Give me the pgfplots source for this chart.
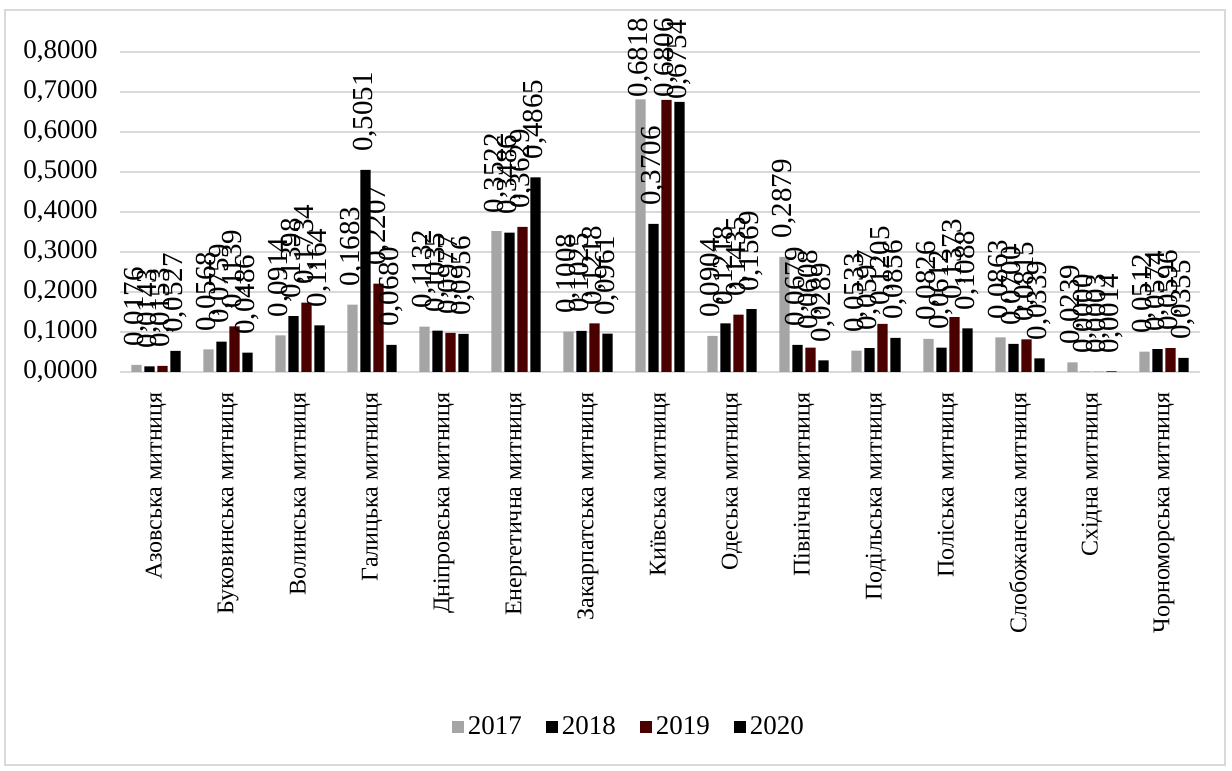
\documentclass[border=0pt]{standalone}
\usepackage{pgfplots}
\pgfplotsset{compat=1.18}
\usepackage{fontspec}
\setmainfont{Liberation Serif}
\definecolor{c17}{HTML}{A5A5A5}
\definecolor{c19}{HTML}{4B0000}
\definecolor{gridc}{HTML}{D9D9D9}
\newcommand{\fs}{\fontsize{13.5}{15}\selectfont}
\newcommand{\fn}{\fontsize{14.5}{16}\selectfont}
\newcommand{\fc}{\fontsize{12}{14}\selectfont}
\begin{document}
\begin{tikzpicture}
\begin{axis}[
  at={(60pt,199.5pt)}, anchor=south west,
  width=540pt, height=160pt, scale only axis,
  ybar, bar width=5.2pt, ybar=1.3pt,
  xmin=-0.5, xmax=14.5, ymin=0, ymax=0.8,
  xtick=data,
  xticklabels={Азовська митниця, Буковинська митниця, Волинська митниця,
    Галицька митниця, Дніпровська митниця, Енергетична митниця,
    Закарпатська митниця, Київська митниця, Одеська митниця,
    Північна митниця, Подільська митниця, Поліська митниця,
    Слобожанська митниця, Східна митниця, Чорноморська митниця},
  ytick={0,0.1,0.2,0.3,0.4,0.5,0.6,0.7,0.8},
  ymajorgrids, grid style={gridc, line width=0.9pt},
  axis line style={draw=none},
  major tick length=0pt,
  /pgf/number format/fixed,
  /pgf/number format/fixed zerofill,
  /pgf/number format/precision=4,
  /pgf/number format/use comma,
  /pgf/number format/assume math mode=true,
  yticklabel style={font=\fs, inner xsep=11pt},
  xticklabel style={font=\fc, rotate=90, anchor=east, inner xsep=10pt},
  visualization depends on={y \as \rawy},
  nodes near coords,
  every node near coord/.append style={font=\fn, rotate=90, anchor=west,
    inner sep=1pt, outer xsep={ifthenelse(\rawy>0.6,0,8)*1pt}},
  legend style={at={(0.472,-1.109)}, anchor=center, draw=none, font=\fs,
    legend columns=-1,
    /tikz/every even column/.append style={column sep=10pt}},
  legend image code/.code={\fill[#1] (0pt,-3pt) rectangle (6pt,3pt);},
]
\addplot[fill=c17, draw=none] coordinates {
  (0,0.0176) (1,0.0568) (2,0.0914) (3,0.1683) (4,0.1132) (5,0.3522) (6,0.1008)
  (7,0.6818) (8,0.0904) (9,0.2879) (10,0.0533) (11,0.0826) (12,0.0863) (13,0.0239) (14,0.0512)};
\addplot[fill=black, draw=none] coordinates {
  (0,0.0143) (1,0.0759) (2,0.1398) (3,0.5051) (4,0.1035) (5,0.3486) (6,0.1025)
  (7,0.3706) (8,0.1218) (9,0.0679) (10,0.0597) (11,0.0612) (12,0.0700) (13,0.0000) (14,0.0574)};
\addplot[fill=c19, draw=none] coordinates {
  (0,0.0153) (1,0.1139) (2,0.1734) (3,0.2207) (4,0.0977) (5,0.3629) (6,0.1218)
  (7,0.6806) (8,0.1435) (9,0.0608) (10,0.1205) (11,0.1373) (12,0.0815) (13,0.0003) (14,0.0596)};
\addplot[fill=black, draw=none] coordinates {
  (0,0.0527) (1,0.0486) (2,0.1164) (3,0.0680) (4,0.0956) (5,0.4865) (6,0.0961)
  (7,0.6754) (8,0.1569) (9,0.0289) (10,0.0856) (11,0.1088) (12,0.0339) (13,0.0014) (14,0.0355)};
\legend{2017,2018,2019,2020}
\end{axis}
\draw[gridc, line width=1pt] (2.5pt,3pt) rectangle (612.5pt,380.5pt);
\pgfresetboundingbox
\path[use as bounding box] (0,0) rectangle (616pt,385.5pt);
\end{tikzpicture}
\end{document}
